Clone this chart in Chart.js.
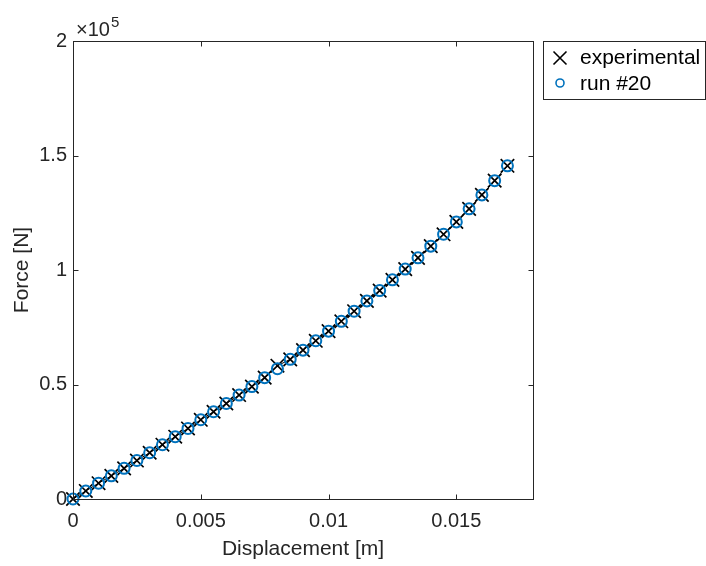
<!DOCTYPE html>
<html lang="en">
<head>
  <meta charset="UTF-8" />
  <title>Force vs Displacement</title>
  <script src="https://cdn.jsdelivr.net/npm/chart.js"></script>
  <style>
    html, body { margin: 0; padding: 0; background: #fff; }
    #wrap { width: 706px; height: 566px; }
  </style>
</head>
<body>
<div id="wrap"><canvas id="forceChart" width="706" height="566"></canvas></div>
<script>
  // displacement [m] and force [N]
  const displacement = [
    0, 0.0005, 0.001, 0.0015, 0.002, 0.0025, 0.003, 0.0035, 0.004, 0.0045,
    0.005, 0.0055, 0.006, 0.0065, 0.007, 0.0075, 0.008, 0.0085, 0.009, 0.0095,
    0.01, 0.0105, 0.011, 0.0115, 0.012, 0.0125, 0.013, 0.0135, 0.014, 0.0145,
    0.015, 0.0155, 0.016, 0.0165, 0.017
  ];
  const forceExperimental = [
    0, 3500, 6900, 10100, 13400, 16800, 20200, 23700, 27200, 30800,
    34600, 38100, 41700, 45400, 49100, 53000, 58200, 61000, 65000, 69100,
    73300, 77600, 82000, 86500, 91000, 95700, 100400, 105300, 110400, 115600,
    121000, 126700, 132800, 139000, 145500
  ];
  const forceRun20 = [
    0, 3500, 6900, 10100, 13400, 16800, 20200, 23700, 27200, 30800,
    34600, 38100, 41700, 45400, 49100, 53000, 56900, 61000, 65000, 69100,
    73300, 77600, 82000, 86500, 91000, 95700, 100400, 105300, 110400, 115600,
    121000, 126700, 132800, 139000, 145500
  ];
  const seriesNames = ['experimental', 'run #20'];

  const xTicks = [0, 0.005, 0.01, 0.015];
  const xTickLabels = ['0', '0.005', '0.01', '0.015'];
  const yTicks = [0, 50000, 100000, 150000, 200000];
  const yTickLabels = ['0', '0.5', '1', '1.5', '2'];

  const FONT = '"Liberation Sans", Arial, Helvetica, sans-serif';
  const AXIS_COLOR = '#262626';
  const BLUE = '#0072BD';

  Chart.defaults.font.family = FONT;
  Chart.defaults.color = AXIS_COLOR;

  const points = ys => displacement.map((d, i) => ({ x: d, y: ys[i] }));

  // box, inward ticks, exponent label and legend, matlab style
  const matlabAxes = {
    id: 'matlabAxes',
    afterDraw(chart) {
      const { ctx, chartArea: a, scales: { x, y } } = chart;
      const L = Math.round(a.left) + 0.5, R = Math.round(a.right) + 0.5;
      const T = Math.round(a.top) + 0.5, B = Math.round(a.bottom) + 0.5;
      ctx.save();
      ctx.strokeStyle = AXIS_COLOR;
      ctx.lineWidth = 1;
      ctx.strokeRect(L, T, R - L, B - T);

      ctx.beginPath();
      xTicks.forEach(v => {
        const px = Math.round(x.getPixelForValue(v)) + 0.5;
        ctx.moveTo(px, B); ctx.lineTo(px, B - 5);
        ctx.moveTo(px, T); ctx.lineTo(px, T + 5);
      });
      yTicks.forEach(v => {
        const py = Math.round(y.getPixelForValue(v)) + 0.5;
        ctx.moveTo(L, py); ctx.lineTo(L + 5, py);
        ctx.moveTo(R, py); ctx.lineTo(R - 5, py);
      });
      ctx.stroke();

      // x10^5
      ctx.fillStyle = AXIS_COLOR;
      ctx.textBaseline = 'alphabetic';
      ctx.textAlign = 'left';
      ctx.font = '20px ' + FONT;
      ctx.fillText('\u00d710', 76, 36);
      const w = ctx.measureText('\u00d710').width;
      ctx.font = '15px ' + FONT;
      ctx.fillText('5', 76 + w + 1, 27);

      // legend
      const lx = 543.5, ly = 41.5, lw = 162, lh = 58;
      ctx.fillStyle = '#fff';
      ctx.fillRect(lx, ly, lw, lh);
      ctx.strokeStyle = AXIS_COLOR;
      ctx.strokeRect(lx, ly, lw, lh);

      ctx.strokeStyle = '#000';
      ctx.lineWidth = 1.6;
      ctx.beginPath();
      ctx.moveTo(560 - 6.5, 58 - 6.5); ctx.lineTo(560 + 6.5, 58 + 6.5);
      ctx.moveTo(560 - 6.5, 58 + 6.5); ctx.lineTo(560 + 6.5, 58 - 6.5);
      ctx.stroke();

      ctx.strokeStyle = BLUE;
      ctx.beginPath();
      ctx.arc(560, 83, 4, 0, Math.PI * 2);
      ctx.stroke();

      ctx.fillStyle = '#000';
      ctx.font = '21px ' + FONT;
      ctx.textBaseline = 'middle';
      ctx.fillText(seriesNames[0], 580, 58);
      ctx.fillText(seriesNames[1], 580, 84);
      ctx.restore();
    }
  };

  const axisFont = { size: 20, family: FONT };
  const titleFont = { size: 21, family: FONT };

  new Chart(document.getElementById('forceChart'), {
    type: 'scatter',
    data: {
      datasets: [
        {
          label: seriesNames[0],
          data: points(forceExperimental),
          showLine: true,
          borderColor: '#000',
          borderWidth: 1,
          pointStyle: 'crossRot',
          pointRadius: 9.5,
          pointHoverRadius: 9.5,
          pointBorderColor: '#000',
          pointBorderWidth: 1.7,
          clip: false,
          order: 2
        },
        {
          label: seriesNames[1],
          data: points(forceRun20),
          showLine: false,
          pointStyle: 'circle',
          pointRadius: 5.5,
          pointHoverRadius: 5.5,
          pointBorderColor: BLUE,
          pointBackgroundColor: 'rgba(0,0,0,0)',
          pointBorderWidth: 2,
          clip: false,
          order: 1
        }
      ]
    },
    options: {
      responsive: false,
      animation: false,
      devicePixelRatio: 1,
      layout: { padding: { left: 0, top: 41, right: 173, bottom: 0 } },
      plugins: { legend: { display: false }, tooltip: { enabled: false } },
      scales: {
        x: {
          type: 'linear',
          min: 0,
          max: 0.018,
          afterBuildTicks: s => { s.ticks = xTicks.map(v => ({ value: v })); },
          afterFit: s => { s.height = 67; },
          grid: { display: false, drawTicks: false },
          border: { display: false },
          ticks: {
            font: axisFont,
            color: AXIS_COLOR,
            padding: 10,
            maxRotation: 0,
            autoSkip: false,
            callback: (v, i) => xTickLabels[i]
          },
          title: {
            display: true,
            text: 'Displacement [m]',
            font: titleFont,
            color: AXIS_COLOR,
            padding: { top: 0, bottom: 4 }
          }
        },
        y: {
          type: 'linear',
          min: 0,
          max: 200000,
          afterBuildTicks: s => { s.ticks = yTicks.map(v => ({ value: v })); },
          afterFit: s => { s.width = 73; },
          grid: { display: false, drawTicks: false },
          border: { display: false },
          ticks: {
            font: axisFont,
            color: AXIS_COLOR,
            padding: 6,
            autoSkip: false,
            callback: (v, i) => yTickLabels[i]
          },
          title: {
            display: true,
            text: 'Force [N]',
            font: titleFont,
            color: AXIS_COLOR,
            padding: { top: 10, bottom: 0 }
          }
        }
      }
    },
    plugins: [matlabAxes]
  });
</script>
</body>
</html>
